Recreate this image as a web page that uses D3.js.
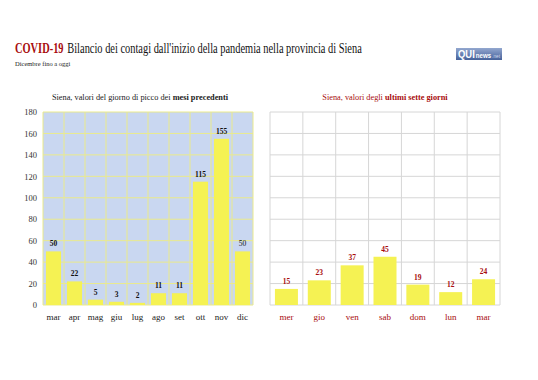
<!DOCTYPE html>
<html>
<head>
<meta charset="utf-8">
<script src="https://cdn.jsdelivr.net/npm/d3@7"></script>
<style>
  body { margin: 0; background: #fff; }
  svg { display: block; font-family: "Liberation Serif", "DejaVu Serif", serif; }
</style>
</head>
<body>
<div id="chart"></div>
<script>
(function(){
    "use strict";

    var months = ["mar", "apr", "mag", "giu", "lug", "ago", "set", "ott", "nov", "dic"];
    var monthPeaks = [50, 22, 5, 3, 2, 11, 11, 115, 155, 50];
    var days = ["mer", "gio", "ven", "sab", "dom", "lun", "mar"];
    var dayValues = [15, 23, 37, 45, 19, 12, 24];
    var yTicks = [0, 20, 40, 60, 80, 100, 120, 140, 160, 180];

    var width = 538, height = 380;
    var red = "#a80d0d";
    var barColor = "#f5f253";
    var serif = "Liberation Serif, DejaVu Serif, serif";

    var svg = d3.select("#chart").append("svg")
        .attr("width", width)
        .attr("height", height);

    // title: two texts in a group squeezed horizontally to the reference width
    var tg = svg.append("g");
    var t1 = tg.append("text")
        .attr("x", 0).attr("y", 0)
        .attr("font-size", 14).attr("font-weight", "bold")
        .attr("fill", red)
        .text("COVID-19");
    var w1 = t1.node().getComputedTextLength();
    var t2 = tg.append("text")
        .attr("x", w1 + 5).attr("y", 0)
        .attr("font-size", 14).attr("fill", "#111")
        .text("Bilancio dei contagi dall'inizio della pandemia nella provincia di Siena");
    var total = w1 + 5 + t2.node().getComputedTextLength();
    tg.attr("transform", "translate(15,53) scale(" + (347 / total) + ",1)");

    svg.append("text")
        .attr("x", 15)
        .attr("y", 66)
        .attr("font-size", 6.5)
        .attr("fill", "#222")
        .text("Dicembre fino a oggi");

    // logo
    var grad = svg.append("defs").append("linearGradient")
        .attr("id", "logoGrad").attr("x1", 0).attr("y1", 0).attr("x2", 0).attr("y2", 1);
    grad.append("stop").attr("offset", "0%").attr("stop-color", "#93a7cf");
    grad.append("stop").attr("offset", "100%").attr("stop-color", "#45619a");
    var logo = svg.append("g").attr("transform", "translate(456,48)")
        .attr("font-family", "Liberation Sans, Arial, sans-serif");
    logo.append("rect").attr("width", 46).attr("height", 12).attr("fill", "url(#logoGrad)");
    var lg = logo.append("g");
    var q = lg.append("text").attr("x", 0).attr("y", 0)
        .attr("font-size", 10).attr("font-weight", "bold").attr("fill", "#fff")
        .text("QUI");
    var qw = q.node().getComputedTextLength();
    var n = lg.append("text").attr("x", qw + 1).attr("y", 0)
        .attr("font-size", 6.5).attr("font-weight", "bold").attr("fill", "#fff")
        .text("news");
    var nw = n.node().getComputedTextLength();
    var d = lg.append("text").attr("x", qw + nw + 2).attr("y", 0)
        .attr("font-size", 5).attr("fill", "#d0dbef")
        .text(".net");
    var lw = qw + nw + 2 + d.node().getComputedTextLength();
    lg.attr("transform", "translate(2,10) scale(" + (42 / lw) + ",1)");

    var y = d3.scaleLinear().domain([0, 180]).range([305, 112]);

    // ---- left chart
    var x1 = d3.scaleBand().domain(months).range([43, 253]).paddingInner(0.28).paddingOuter(0.14);

    var left = svg.append("g");
    left.append("rect")
        .attr("x", 43).attr("y", y(180))
        .attr("width", 210).attr("height", y(0) - y(180))
        .attr("fill", "#c9d7f1");

    left.selectAll("line.h").data(yTicks).enter().append("line")
        .attr("class", "h")
        .attr("x1", 43).attr("x2", 253)
        .attr("y1", function(d) { return y(d); })
        .attr("y2", function(d) { return y(d); })
        .attr("stroke", "#eaea8c").attr("stroke-width", 1);

    var step1 = x1.step();
    left.selectAll("line.v").data(d3.range(months.length + 1)).enter().append("line")
        .attr("class", "v")
        .attr("x1", function(i) { return 43 + i * step1; })
        .attr("x2", function(i) { return 43 + i * step1; })
        .attr("y1", y(180)).attr("y2", y(0))
        .attr("stroke", "#eaea8c").attr("stroke-width", 1);

    left.selectAll("rect.bar").data(monthPeaks).enter().append("rect")
        .attr("class", "bar")
        .attr("x", function(d, i) { return x1(months[i]); })
        .attr("y", function(d) { return y(d); })
        .attr("width", x1.bandwidth())
        .attr("height", function(d) { return y(0) - y(d); })
        .attr("fill", barColor);

    left.selectAll("text.val").data(monthPeaks).enter().append("text")
        .attr("class", "val")
        .attr("x", function(d, i) { return x1(months[i]) + x1.bandwidth() / 2; })
        .attr("y", function(d) { return y(d) - 5; })
        .attr("text-anchor", "middle")
        .attr("font-size", 7.5)
        .attr("font-weight", function(d, i) { return i === months.length - 1 ? "normal" : "bold"; })
        .attr("fill", "#111")
        .text(function(d) { return d; });

    var yAxis = d3.axisLeft(y).tickValues(yTicks).tickSize(0).tickPadding(6);
    var ya = left.append("g").attr("transform", "translate(43,0)").call(yAxis)
        .attr("font-family", serif).attr("font-size", 8.5);
    ya.select(".domain").remove();
    ya.selectAll("text").attr("fill", "#333");

    var xAxis1 = d3.axisBottom(x1).tickSize(0).tickPadding(9);
    var xa1 = left.append("g").attr("transform", "translate(0,305)").call(xAxis1)
        .attr("font-family", serif).attr("font-size", 9);
    xa1.select(".domain").remove();
    xa1.selectAll("text").attr("fill", "#222");

    var lt1 = svg.append("text")
        .attr("x", 140).attr("y", 100)
        .attr("text-anchor", "middle")
        .attr("font-size", 8.3).attr("fill", "#222");
    lt1.append("tspan").text("Siena, valori del giorno di picco dei ");
    lt1.append("tspan").attr("font-weight", "bold").text("mesi precedenti");

    // ---- right chart
    var x2 = d3.scaleBand().domain(days).range([270, 500]).paddingInner(0.3).paddingOuter(0.15);
    var right = svg.append("g");

    right.selectAll("line.h").data(yTicks).enter().append("line")
        .attr("class", "h")
        .attr("x1", 270).attr("x2", 500)
        .attr("y1", function(d) { return y(d); })
        .attr("y2", function(d) { return y(d); })
        .attr("stroke", "#d6d6d6").attr("stroke-width", 1);

    var step2 = x2.step();
    right.selectAll("line.v").data(d3.range(days.length + 1)).enter().append("line")
        .attr("class", "v")
        .attr("x1", function(i) { return 270 + i * step2; })
        .attr("x2", function(i) { return 270 + i * step2; })
        .attr("y1", y(180)).attr("y2", y(0))
        .attr("stroke", "#d6d6d6").attr("stroke-width", 1);

    right.selectAll("rect.bar").data(dayValues).enter().append("rect")
        .attr("class", "bar")
        .attr("x", function(d, i) { return x2(days[i]); })
        .attr("y", function(d) { return y(d); })
        .attr("width", x2.bandwidth())
        .attr("height", function(d) { return y(0) - y(d); })
        .attr("fill", barColor);

    right.selectAll("text.val").data(dayValues).enter().append("text")
        .attr("class", "val")
        .attr("x", function(d, i) { return x2(days[i]) + x2.bandwidth() / 2; })
        .attr("y", function(d) { return y(d) - 5; })
        .attr("text-anchor", "middle")
        .attr("font-size", 7.5).attr("font-weight", "bold")
        .attr("fill", red)
        .text(function(d) { return d; });

    var xAxis2 = d3.axisBottom(x2).tickSize(0).tickPadding(9);
    var xa2 = right.append("g").attr("transform", "translate(0,305)").call(xAxis2)
        .attr("font-family", serif).attr("font-size", 9);
    xa2.select(".domain").remove();
    xa2.selectAll("text").attr("fill", red);

    var rt = svg.append("text")
        .attr("x", 385).attr("y", 100)
        .attr("text-anchor", "middle")
        .attr("font-size", 8.3).attr("fill", red);
    rt.append("tspan").text("Siena, valori degli ");
    rt.append("tspan").attr("font-weight", "bold").text("ultimi sette giorni");
})();
</script>
</body>
</html>
